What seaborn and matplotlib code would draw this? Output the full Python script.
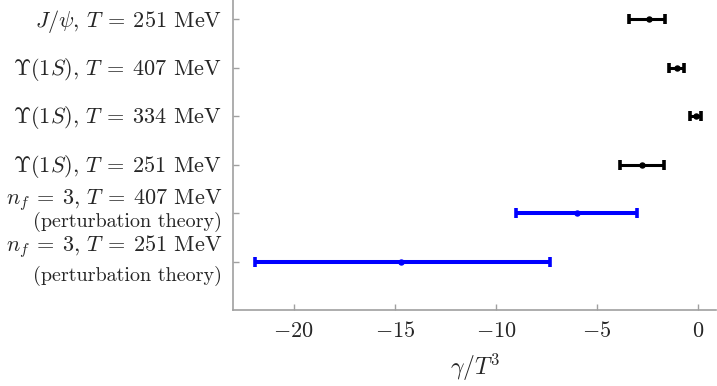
import matplotlib
matplotlib.use("Agg")
import matplotlib.pyplot as plt
import matplotlib.transforms as mtransforms
import seaborn as sns

# rows from top to bottom
labels = [r"$J/\psi,\, T \:=\: 251$ MeV",
          r"$\Upsilon(1S),\, T \:=\: 407$ MeV",
          r"$\Upsilon(1S),\, T \:=\: 334$ MeV",
          r"$\Upsilon(1S),\, T \:=\: 251$ MeV",
          r"$n_f \:=\: 3,\, T \:=\: 407$ MeV",
          r"$n_f \:=\: 3,\, T \:=\: 251$ MeV"]
sublabels = ["", "", "", "", "(perturbation theory)", "(perturbation theory)"]
ypos = [6, 5, 4, 3, 2, 1]
center = [-2.45, -1.02, -0.11, -2.78, -6.01, -14.67]
low = [-3.41, -1.42, -0.41, -3.87, -9.01, -21.91]
high = [-1.63, -0.68, 0.15, -1.67, -3.00, -7.32]
colors = ["black", "black", "black", "black", "#0000ff", "#0000ff"]

sns.set_theme(style="ticks")
plt.rcParams["font.family"] = ["cmr10", "DejaVu Serif"]
plt.rcParams["mathtext.fontset"] = "cm"
plt.rcParams["axes.formatter.use_mathtext"] = True

fig = plt.figure(figsize=(7.17, 3.86), dpi=100)
ax = fig.add_axes([0.325, 0.197, 0.674, 0.803])

for y, c, lo, hi, col in zip(ypos, center, low, high, colors):
    lw = 2.9 if col != "black" else 2.2
    ax.errorbar([c], [y], xerr=[[c - lo], [hi - c]], fmt="o", color=col,
                ms=3.6, lw=lw, capsize=3.6, capthick=2.6)

ax.set_xlim(-23, 0.9)
ax.set_ylim(0, 6.4)
ax.set_xticks([-20, -15, -10, -5, 0])
ax.set_yticks(ypos)
ax.set_yticklabels([])
ax.tick_params(direction="in", color="#a0a0a0", length=4, width=1, labelsize=16, pad=8)
for s in ["top", "right"]:
    ax.spines[s].set_visible(False)
for s in ["left", "bottom"]:
    ax.spines[s].set_color("#a0a0a0")
    ax.spines[s].set_linewidth(1.2)

ax.set_xlabel(r"$\gamma/T^3$", fontsize=17, labelpad=8)

trans = mtransforms.offset_copy(ax.get_yaxis_transform(), fig=fig, x=-8, y=0, units="points")
main_shift = [-0.155, -0.144, -0.144, -0.144, 0.185, 0.205]
sub_shift = [0, 0, 0, 0, -0.29, -0.41]
for y, lab, sub, ms, ss in zip(ypos, labels, sublabels, main_shift, sub_shift):
    ax.text(0, y + ms, lab, transform=trans, ha="right", va="baseline", fontsize=16)
    if sub:
        ax.text(0, y + ss, sub, transform=trans, ha="right", va="baseline", fontsize=14.5)

fig.savefig("out.png", dpi=100)
